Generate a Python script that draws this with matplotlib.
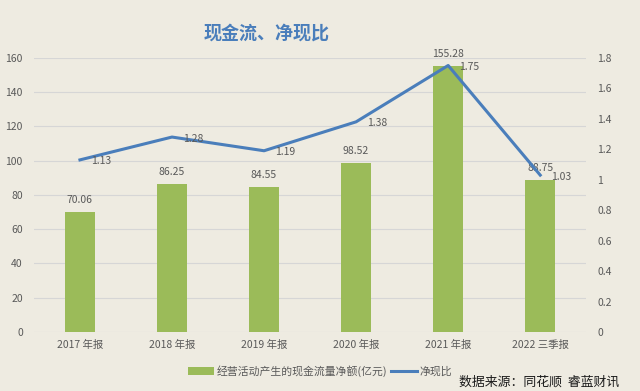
import numpy as np
import matplotlib.pyplot as plt

plt.rcParams['font.family'] = ['Noto Sans CJK SC', 'DejaVu Sans']

categories = ['2017 年报', '2018 年报', '2019 年报', '2020 年报', '2021 年报', '2022 三季报']
cash_flow = [70.06, 86.25, 84.55, 98.52, 155.28, 88.75]
ratio = [1.13, 1.28, 1.19, 1.38, 1.75, 1.03]

bg = '#EEEBE1'
bar_c = '#9BBB59'
line_c = '#4A7EBB'
txt_c = '#595959'

fig = plt.figure(figsize=(6.4, 3.91), dpi=100, facecolor=bg)
ax = fig.add_axes([0.053, 0.151, 0.863, 0.701], facecolor=bg)
x = np.arange(len(categories))

bars = ax.bar(x, cash_flow, width=0.32, color=bar_c, zorder=2)
for xi, v in zip(x, cash_flow):
    ax.text(xi, v + 4, f'{v:.2f}', ha='center', va='bottom', fontsize=7.5, color=txt_c, zorder=5)

ax.set_xlim(-0.5, len(categories) - 0.5)
ax.set_ylim(0, 160)
ax.set_yticks(np.arange(0, 161, 20))
ax.set_xticks(x)
ax.set_xticklabels(categories, fontsize=7.5, color=txt_c)
ax.tick_params(axis='y', labelsize=7.5, labelcolor=txt_c, length=0, pad=8)
ax.tick_params(axis='x', length=0, pad=6)
ax.grid(axis='y', color='#D6D6D6', lw=0.8, zorder=0)
ax.set_axisbelow(True)
for s in ax.spines.values():
    s.set_visible(False)

ax2 = ax.twinx()
ax2.set_ylim(0, 1.8)
ax2.set_yticks(np.arange(0, 1.81, 0.2))
ax2.set_yticklabels(['0', '0.2', '0.4', '0.6', '0.8', '1', '1.2', '1.4', '1.6', '1.8'])
ax2.tick_params(axis='y', labelsize=7.5, labelcolor=txt_c, length=0, pad=8)
for s in ax2.spines.values():
    s.set_visible(False)
line, = ax2.plot(x, ratio, color=line_c, lw=2.2, zorder=3)
for xi, v in zip(x, ratio):
    ax2.text(xi + 0.12, v - 0.01, f'{v:.2f}', ha='left', va='center', fontsize=7.5, color=txt_c)

fig.text(0.416, 0.916, '现金流、净现比', ha='center', va='center', fontsize=13,
         fontweight='bold', color='#4A7EBB')

fig.legend([bars, line], ['经营活动产生的现金流量净额(亿元)', '净现比'], loc='center',
           bbox_to_anchor=(0.5, 0.051), ncol=2, frameon=False, fontsize=7.8,
           labelcolor=txt_c, handlelength=2.4, handletextpad=0.3, columnspacing=0.3)

fig.text(0.968, 0.024, '数据来源：同花顺  睿蓝财讯', ha='right', va='center', fontsize=9.3,
         fontweight='medium', color='#1A1A1A')

fig.savefig('out.png', dpi=100, facecolor=bg)
